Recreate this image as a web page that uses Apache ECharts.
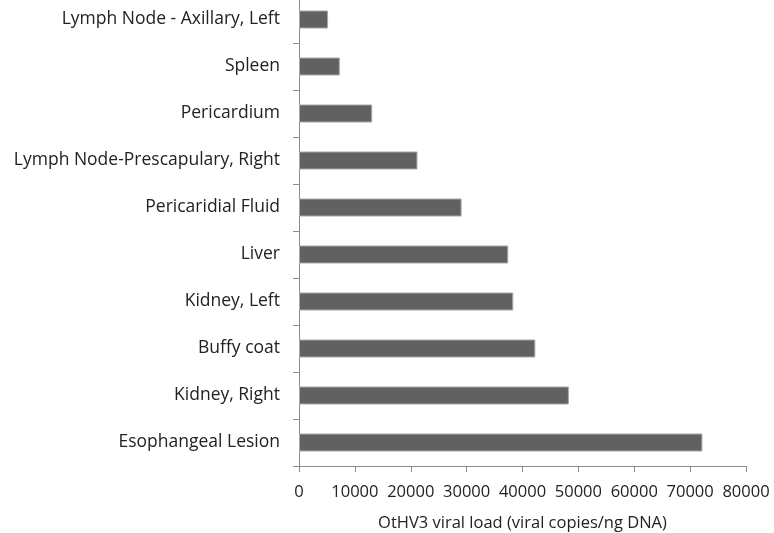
<!DOCTYPE html>
<html><head><meta charset="utf-8">
<script src="https://cdn.jsdelivr.net/npm/echarts@6/dist/echarts.min.js"></script>
<style>html,body{margin:0;padding:0;background:#fff}#c{width:774px;height:533px}</style>
</head><body><div id="c"></div>
<script>
const categories = ["Esophangeal Lesion","Kidney, Right","Buffy coat","Kidney, Left","Liver","Pericaridial Fluid","Lymph Node-Prescapulary, Right","Pericardium","Spleen","Lymph Node - Axillary, Left"];
const values = [72200, 48300, 42300, 38350, 37450, 29100, 21200, 13100, 7300, 5200];
const xTicks = [0, 10000, 20000, 30000, 40000, 50000, 60000, 70000, 80000];
const xTitle = "OtHV3 viral load (viral copies/ng DNA)";

const chart = echarts.init(document.getElementById('c'), null, {renderer:'canvas'});
const font = "'Open Sans', 'Noto Sans', sans-serif";
chart.setOption({
  animation:false,
  backgroundColor:'#fff',
  grid:{left:299, width:447, top:-4, height:470, containLabel:false, outerBoundsMode:'none'},
  xAxis:{
    type:'value', min:xTicks[0], max:xTicks[xTicks.length-1], interval:xTicks[1]-xTicks[0],
    axisLine:{show:true, lineStyle:{color:'#8c8c8c', width:1}},
    axisTick:{show:true, length:6, lineStyle:{color:'#8c8c8c'}},
    splitLine:{show:false},
    axisLabel:{color:'#222', fontSize:16.5, fontFamily:font, margin:18, formatter:(v)=>String(v)},
    name:xTitle, nameLocation:'middle', nameGap:49,
    nameTextStyle:{color:'#222', fontSize:16.5, fontFamily:font}
  },
  yAxis:{
    type:'category', data:categories,
    axisLine:{show:true, lineStyle:{color:'#8c8c8c', width:1}},
    axisTick:{show:true, length:6, lineStyle:{color:'#8c8c8c'}},
    axisLabel:{color:'#222', fontSize:17.5, fontFamily:font, margin:19}
  },
  series:[{
    type:'bar', data:values, barWidth:18,
    itemStyle:{color:'#616161', borderColor:'#a8a8a8', borderWidth:1}
  }]
});
</script></body></html>
